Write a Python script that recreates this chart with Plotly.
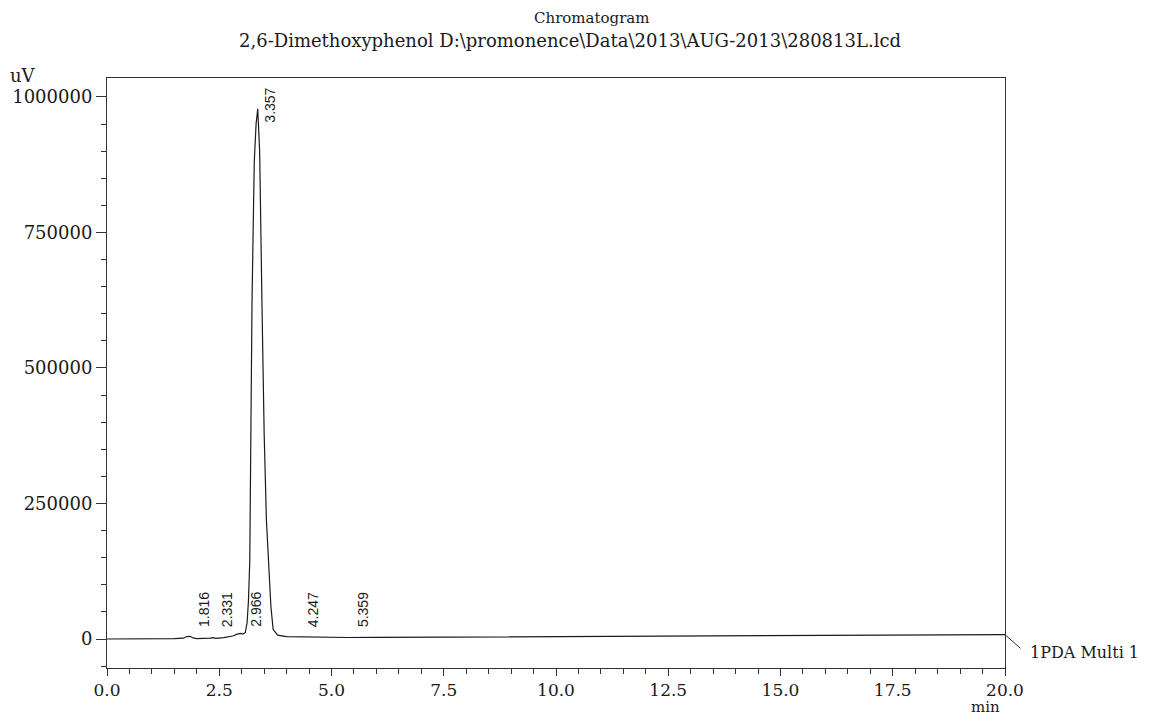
import plotly.graph_objects as go

# Chromatogram trace (retention time in min, signal in uV)
time_min = [0.0, 0.5, 1.0, 1.5, 1.7, 1.78, 1.85, 1.92, 2.0, 2.2, 2.3, 2.36, 2.42, 2.6, 2.8, 2.9, 2.97,
            3.03, 3.08, 3.12, 3.15, 3.18, 3.23, 3.28, 3.32, 3.357, 3.4, 3.45, 3.5, 3.55, 3.59,
            3.65, 3.7, 3.8, 4.0, 4.25, 4.5, 5.0, 5.36, 6.0, 8.0, 10.0, 12.0, 14.0, 16.0, 18.0, 20.0]
signal_uv = [0, 0, 300, 600, 1500, 4500, 5000, 2000, 800, 600, 1500, 2500, 1200, 2500, 5500, 9000, 10500,
             9000, 12000, 30000, 70000, 145000, 625000, 880000, 950000, 978000, 900000, 625000, 380000, 220000, 145000,
             60000, 18000, 7000, 4500, 4000, 3500, 3000, 2800, 3000, 3800, 4600, 5300, 6000, 6800, 7400, 8000]

# Peak labels (retention times)
peak_times = [1.816, 2.331, 2.966, 3.357, 4.247, 5.359]
peak_labels = ["1.816", "2.331", "2.966", "3.357", "4.247", "5.359"]

x_ticks = [0.0, 2.5, 5.0, 7.5, 10.0, 12.5, 15.0, 17.5, 20.0]
x_tick_text = ["0.0", "2.5", "5.0", "7.5", "10.0", "12.5", "15.0", "17.5", "20.0"]
y_ticks = [0, 250000, 500000, 750000, 1000000]
y_tick_text = ["0", "250000", "500000", "750000", "1000000"]

title_line1 = "Chromatogram"
title_line2 = "2,6-Dimethoxyphenol D:\\promonence\\Data\\2013\\AUG-2013\\280813L.lcd"

serif = "DejaVu Serif"
sans = "Liberation Sans"
ink = "#1a1a1a"

fig = go.Figure()
fig.add_trace(go.Scatter(x=time_min, y=signal_uv, mode="lines",
                         line=dict(color=ink, width=1.2), showlegend=False, hoverinfo="skip"))

def interp(t):
    for i in range(len(time_min) - 1):
        if time_min[i] <= t <= time_min[i + 1]:
            a, b = time_min[i], time_min[i + 1]
            f = (t - a) / (b - a) if b > a else 0
            return signal_uv[i] + f * (signal_uv[i + 1] - signal_uv[i])
    return signal_uv[-1]

for t, lab in zip(peak_times, peak_labels):
    h = interp(t)
    if h > 500000:
        fig.add_annotation(x=t, y=h, text=lab, showarrow=False, textangle=-90,
                           xanchor="center", yanchor="middle", xshift=12, yshift=4,
                           font=dict(family=sans, size=14, color=ink))
    else:
        fig.add_annotation(x=t, y=0, text=lab, showarrow=False, textangle=-90,
                           xanchor="center", yanchor="bottom", xshift=15, yshift=10,
                           font=dict(family=sans, size=14, color=ink))

# channel label with leader line
fig.add_annotation(x=20.0, y=signal_uv[-1], ax=17, ay=15, showarrow=True, arrowhead=0,
                   arrowwidth=1, arrowcolor="#333", text="", standoff=0, startstandoff=0)
fig.add_annotation(x=1.026, xref="paper", y=0.027, yref="paper", text="1PDA Multi 1", showarrow=False,
                   xanchor="left", yanchor="middle",
                   font=dict(family=serif, size=16, color=ink))

fig.add_annotation(x=-0.110, xref="paper", y=1.005, yref="paper", text="uV", showarrow=False,
                   xanchor="left", yanchor="middle",
                   font=dict(family=serif, size=18, color=ink))
fig.add_annotation(x=0.978, xref="paper", y=-0.0661, yref="paper", text="min", showarrow=False,
                   xanchor="center", yanchor="middle",
                   font=dict(family=serif, size=15, color=ink))

fig.add_annotation(x=0.540, xref="paper", y=1.1017, yref="paper", text=title_line1, showarrow=False,
                   xanchor="center", yanchor="middle", font=dict(family=serif, size=15, color=ink))
fig.add_annotation(x=0.5156, xref="paper", y=1.0644, yref="paper", text=title_line2, showarrow=False,
                   xanchor="center", yanchor="middle", font=dict(family=serif, size=18, color=ink))

fig.update_layout(
    width=1137, height=707,
    margin=dict(l=99, r=140, t=70, b=47),
    paper_bgcolor="white", plot_bgcolor="white",
    font=dict(family=serif, size=17, color=ink),
)
fig.update_xaxes(range=[0, 20], tickvals=x_ticks, ticktext=x_tick_text, showgrid=False, zeroline=False,
                 showline=True, linecolor="#333", linewidth=1, mirror=True, automargin=False,
                 ticks="outside", ticklen=7, tickcolor="#333",
                 minor=dict(dtick=0.5, tick0=0, ticks="outside", ticklen=5, tickcolor="#333"),
                 tickfont=dict(family=serif, size=17, color=ink))
fig.update_yaxes(range=[-53500, 1035000], tickvals=y_ticks, ticktext=y_tick_text, showgrid=False, zeroline=False,
                 showline=True, linecolor="#333", linewidth=1, mirror=True, automargin=False,
                 ticks="outside", ticklen=10, tickcolor="#333",
                 minor=dict(dtick=50000, tick0=0, ticks="outside", ticklen=5, tickcolor="#333"),
                 tickfont=dict(family=serif, size=18, color=ink))

fig.write_html("out.html")
